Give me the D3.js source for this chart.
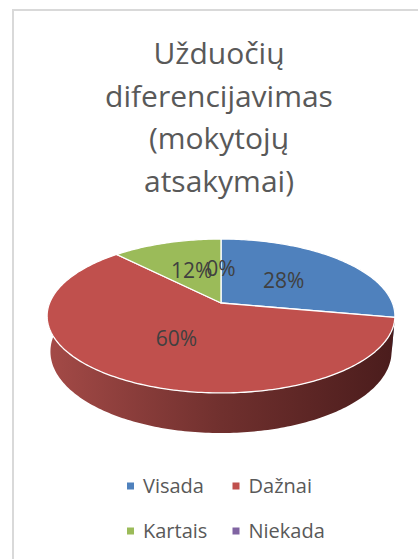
<!DOCTYPE html>
<html>
<head>
<meta charset="utf-8">
<script src="https://cdn.jsdelivr.net/npm/d3@7"></script>
<style>
  html, body { margin: 0; padding: 0; background: #fff; }
  svg { display: block; }
</style>
</head>
<body>
<script>
// chart data
var categories = ["Visada", "Dažnai", "Kartais", "Niekada"];
var values = [28, 60, 12, 0];
var colors = ["#4f81bd", "#c0504d", "#9bbb59", "#8064a2"];
var titleLines = ["Užduočių", "diferencijavimas", "(mokytojų", "atsakymai)"];

var w = 418, h = 559;

var svg = d3.select("body").append("svg")
  .attr("width", w)
  .attr("height", h)
  .style("font-family", "'Open Sans', sans-serif");

// chart border (runs off the right and bottom edges)
svg.append("rect")
  .attr("x", 13).attr("y", 10)
  .attr("width", 460).attr("height", 600)
  .attr("fill", "#fff")
  .attr("stroke", "#d9d9d9")
  .attr("stroke-width", 2);

// title
svg.append("text")
  .attr("text-anchor", "middle")
  .attr("font-size", 30)
  .attr("fill", "#595959")
  .selectAll("tspan")
  .data(titleLines)
  .enter().append("tspan")
  .attr("x", 219)
  .attr("y", function(d, i) { return 64 + i * 42.6; })
  .text(function(d) { return d; });

// perspective projection of the pie disk
var cx = 221, cy = 303;
var sinT = 0.4363, cosT = 0.8998, D = 5.336, f = 914.6, thick = 0.232;
function proj(a, r, H) {
  var X = r * Math.sin(a), Z = -r * Math.cos(a);
  var yc = Z * sinT + H * cosT;
  var d = D - Z * cosT + H * sinT;
  return [cx + f * X / d, cy + f * yc / d];
}
function arcPts(a0, a1, H) {
  var n = Math.max(2, Math.ceil((a1 - a0) / (Math.PI / 180)));
  return d3.range(n + 1).map(function(i) { return proj(a0 + (a1 - a0) * i / n, 1, H); });
}

var color = d3.scaleOrdinal().domain(categories).range(colors);
var pie = d3.pie().sort(null).value(function(d) { return d.value; });
var arcs = pie(categories.map(function(c, i) { return { name: c, value: values[i] }; }));
var line = d3.line();

// side gradient
var grad = svg.append("defs").append("linearGradient")
  .attr("id", "side")
  .attr("gradientUnits", "userSpaceOnUse")
  .attr("x1", 47).attr("x2", 396).attr("y1", 0).attr("y2", 0);
grad.append("stop").attr("offset", 0).attr("stop-color", "#a44a47");
grad.append("stop").attr("offset", 0.5).attr("stop-color", "#70302e");
grad.append("stop").attr("offset", 1).attr("stop-color", "#4a1c1c");

var sideMin = 80 * Math.PI / 180, sideMax = 280 * Math.PI / 180;
svg.append("g").selectAll("path")
  .data(arcs.filter(function(d) { return d.endAngle > sideMin && d.startAngle < sideMax && d.value > 0; }))
  .enter().append("path")
  .attr("d", function(d) {
    var a0 = Math.max(d.startAngle, sideMin), a1 = Math.min(d.endAngle, sideMax);
    var pts = arcPts(a0, a1, 0).concat(arcPts(a0, a1, thick).reverse());
    return line(pts) + "Z";
  })
  .attr("fill", function(d) { return d.data.name === "Dažnai" ? "url(#side)" : d3.color(color(d.data.name)).darker(1.2); });

// top faces
svg.append("g").selectAll("path")
  .data(arcs.filter(function(d) { return d.value > 0; }))
  .enter().append("path")
  .attr("d", function(d) {
    return line([proj(0, 0, 0)].concat(arcPts(d.startAngle, d.endAngle, 0))) + "Z";
  })
  .attr("fill", function(d) { return color(d.data.name); })
  .attr("stroke", "#fff")
  .attr("stroke-width", 1.3)
  .attr("stroke-linejoin", "round");

// data labels
svg.append("g").selectAll("text")
  .data(arcs)
  .enter().append("text")
  .attr("x", function(d) { return proj((d.startAngle + d.endAngle) / 2, 0.5, 0)[0]; })
  .attr("y", function(d) { return proj((d.startAngle + d.endAngle) / 2, 0.5, 0)[1]; })
  .attr("dy", "0.36em")
  .attr("text-anchor", "middle")
  .attr("font-size", 21)
  .attr("fill", "#404040")
  .text(function(d) { return d.value + "%"; });

// legend
var legend = svg.append("g").selectAll("g")
  .data(categories)
  .enter().append("g")
  .attr("transform", function(d, i) {
    return "translate(" + [127, 232.5][i % 2] + "," + [486, 531][Math.floor(i / 2)] + ")";
  });
legend.append("rect")
  .attr("x", 0).attr("y", -3.5)
  .attr("width", 7).attr("height", 7)
  .attr("fill", function(d) { return color(d); });
legend.append("text")
  .attr("x", 16)
  .attr("dy", "0.36em")
  .attr("font-size", 20)
  .attr("fill", "#595959")
  .text(function(d) { return d; });
</script>
</body>
</html>
